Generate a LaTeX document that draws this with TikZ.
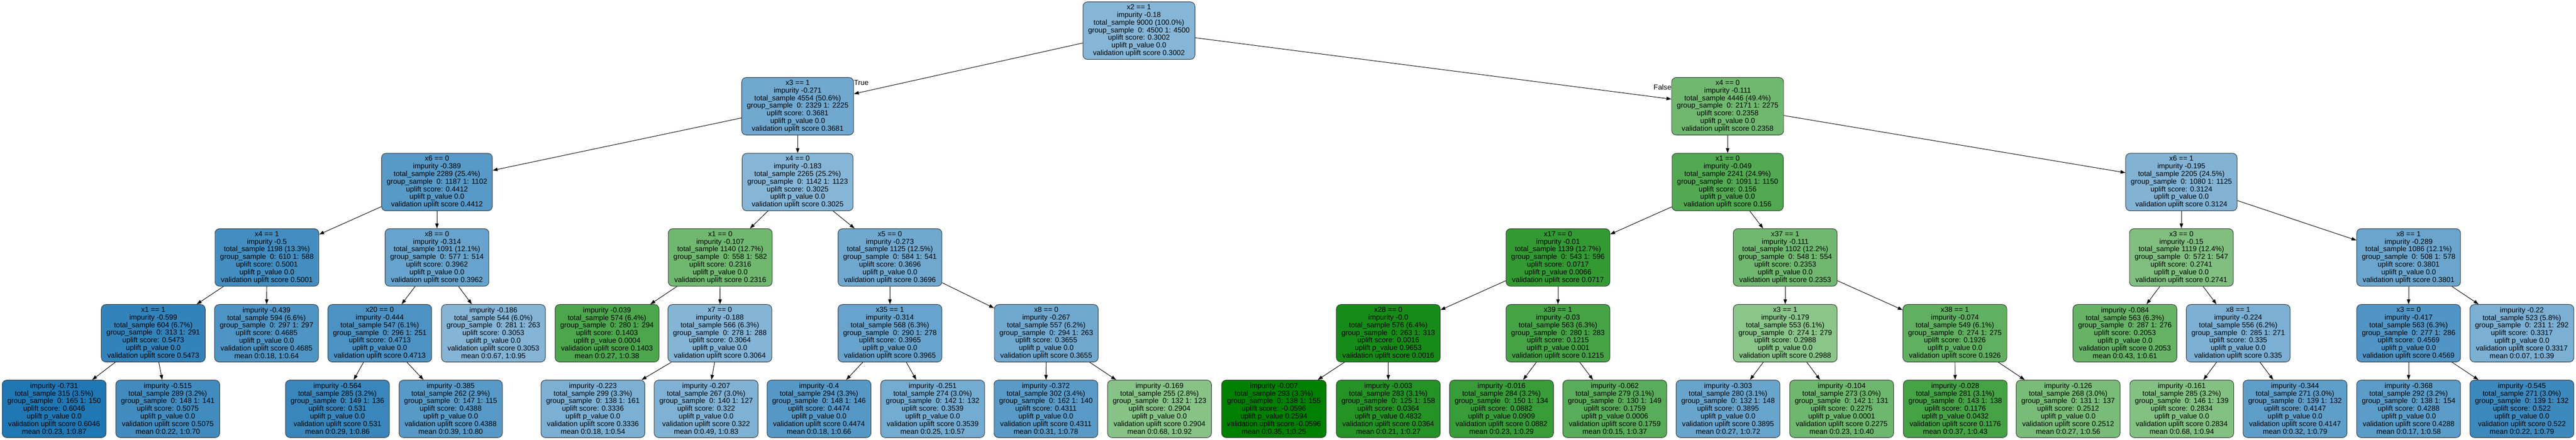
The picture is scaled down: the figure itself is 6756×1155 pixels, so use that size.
\documentclass[tikz,border=0pt]{standalone}
\usepackage{fontspec}
\setmainfont{Liberation Sans}
\usetikzlibrary{arrows.meta}
\definecolor{upblue}{HTML}{1F77B4}
\definecolor{upgreen}{HTML}{008000}
\newcommand\splittext[8]{#1\\impurity #2\\total\_sample #3\\group\_sample\ \ 0: #4 1: #5\\uplift score: #6\\uplift p\_value #7\\validation uplift score #8}
\newcommand\leaftext[8]{impurity #1\\total\_sample #2\\group\_sample\ \ 0: #3 1: #4\\uplift score: #5\\uplift p\_value #6\\validation uplift score #7\\mean #8}
\tikzset{
	tree/.style={draw=black!80, line width=1.3pt, rounded corners=12pt, align=center, minimum height=151pt, inner xsep=13.5pt, inner ysep=0pt, font=\fontsize{19}{20}\selectfont},
	blu/.style={tree, fill=upblue!#1!white},
	grn/.style={tree, fill=upgreen!#1!white},
	edge/.style={-{Triangle[length=13pt,width=9pt]}, line width=1.3pt},
	lbl/.style={inner sep=0pt, font=\fontsize{19}{20}\selectfont}
}

\begin{document}
\begin{tikzpicture}[x=1pt, y=-1pt]
			%%%%% START %%%%%
			
			\fill[white] (0, 0) rectangle (6756, 1155);
			\useasboundingbox (0, 0) rectangle (6756, 1155);
			
			\node[blu=54] (root) at (2987, 80.5) {\splittext{x2 == 1}{-0.18}{9000 (100.0\%)}{4500}{4500}{0.3002}{0.0}{0.3002}};
			
			\node[blu=64] (a) at (2092, 279) {\splittext{x3 == 1}{-0.271}{4554 (50.6\%)}{2329}{2225}{0.3681}{0.0}{0.3681}};
			\node[grn=56] (b) at (4531, 279) {\splittext{x4 == 0}{-0.111}{4446 (49.4\%)}{2171}{2275}{0.2358}{0.0}{0.2358}};
			
			\node[blu=75] (aa) at (1146, 478) {\splittext{x6 == 0}{-0.389}{2289 (25.4\%)}{1187}{1102}{0.4412}{0.0}{0.4412}};
			\node[blu=54] (ab) at (2092, 478) {\splittext{x4 == 0}{-0.183}{2265 (25.2\%)}{1142}{1123}{0.3025}{0.0}{0.3025}};
			\node[grn=68] (ba) at (4531, 478) {\splittext{x1 == 0}{-0.049}{2241 (24.9\%)}{1091}{1150}{0.156}{0.0}{0.156}};
			\node[blu=56] (bb) at (5721, 478) {\splittext{x6 == 1}{-0.195}{2205 (24.5\%)}{1080}{1125}{0.3124}{0.0}{0.3124}};
			
			\node[blu=84] (aaa) at (700, 676) {\splittext{x4 == 1}{-0.5}{1198 (13.3\%)}{610}{588}{0.5001}{0.0}{0.5001}};
			\node[blu=68] (aab) at (1146, 676) {\splittext{x8 == 0}{-0.314}{1091 (12.1\%)}{577}{514}{0.3962}{0.0}{0.3962}};
			\node[grn=56] (aba) at (1889, 676) {\splittext{x1 == 0}{-0.107}{1140 (12.7\%)}{558}{582}{0.2316}{0.0}{0.2316}};
			\node[blu=64] (abb) at (2334, 676) {\splittext{x5 == 0}{-0.273}{1125 (12.5\%)}{584}{541}{0.3696}{0.0}{0.3696}};
			\node[grn=80] (baa) at (4086, 676) {\splittext{x17 == 0}{-0.01}{1139 (12.7\%)}{543}{596}{0.0717}{0.0066}{0.0717}};
			\node[grn=56] (bab) at (4682, 676) {\splittext{x37 == 1}{-0.111}{1102 (12.2\%)}{548}{554}{0.2353}{0.0}{0.2353}};
			\node[grn=50] (bba) at (5721, 676) {\splittext{x3 == 0}{-0.15}{1119 (12.4\%)}{572}{547}{0.2741}{0.0}{0.2741}};
			\node[blu=66] (bbb) at (6317, 676) {\splittext{x8 == 1}{-0.289}{1086 (12.1\%)}{508}{578}{0.3801}{0.0}{0.3801}};
			
			\node[blu=91] (aaaa) at (402, 875) {\splittext{x1 == 1}{-0.599}{604 (6.7\%)}{313}{291}{0.5473}{0.0}{0.5473}};
			\node[blu=79] (aaab) at (699, 875) {\leaftext{-0.439}{594 (6.6\%)}{297}{297}{0.4685}{0.0}{0.4685}{0:0.18, 1:0.64}};
			\node[blu=80] (aaba) at (996, 875) {\splittext{x20 == 0}{-0.444}{547 (6.1\%)}{296}{251}{0.4713}{0.0}{0.4713}};
			\node[blu=55] (aabb) at (1294, 875) {\leaftext{-0.186}{544 (6.0\%)}{281}{263}{0.3053}{0.0}{0.3053}{0:0.67, 1:0.95}};
			\node[grn=70] (abaa) at (1592, 875) {\leaftext{-0.039}{574 (6.4\%)}{280}{294}{0.1403}{0.0004}{0.1403}{0:0.27, 1:0.38}};
			\node[blu=55] (abab) at (1888, 875) {\splittext{x7 == 0}{-0.188}{566 (6.3\%)}{278}{288}{0.3064}{0.0}{0.3064}};
			\node[blu=68] (abba) at (2334, 875) {\splittext{x35 == 1}{-0.314}{568 (6.3\%)}{290}{278}{0.3965}{0.0}{0.3965}};
			\node[blu=64] (abbb) at (2744, 875) {\splittext{x8 == 0}{-0.267}{557 (6.2\%)}{294}{263}{0.3655}{0.0}{0.3655}};
			\node[grn=91] (baaa) at (3641, 875) {\splittext{x28 == 0}{-0.0}{576 (6.4\%)}{263}{313}{0.0016}{0.9653}{0.0016}};
			\node[grn=73] (baab) at (4086, 875) {\splittext{x39 == 1}{-0.03}{563 (6.3\%)}{280}{283}{0.1215}{0.001}{0.1215}};
			\node[grn=46] (baba) at (4682, 875) {\splittext{x3 == 1}{-0.179}{553 (6.1\%)}{274}{279}{0.2988}{0.0}{0.2988}};
			\node[grn=62] (babb) at (5127, 875) {\splittext{x38 == 1}{-0.074}{549 (6.1\%)}{274}{275}{0.1926}{0.0}{0.1926}};
			\node[grn=60] (bbaa) at (5573, 875) {\leaftext{-0.084}{563 (6.3\%)}{287}{276}{0.2053}{0.0}{0.2053}{0:0.43, 1:0.61}};
			\node[blu=59] (bbab) at (5870, 875) {\splittext{x8 == 1}{-0.224}{556 (6.2\%)}{285}{271}{0.335}{0.0}{0.335}};
			\node[blu=78] (bbba) at (6317, 875) {\splittext{x3 == 0}{-0.417}{563 (6.3\%)}{277}{286}{0.4569}{0.0}{0.4569}};
			\node[blu=59] (bbbb) at (6614, 875) {\leaftext{-0.22}{523 (5.8\%)}{231}{292}{0.3317}{0.0}{0.3317}{0:0.07, 1:0.39}};
			
			\node[blu=100] (aaaaa) at (142, 1073.5) {\leaftext{-0.731}{315 (3.5\%)}{165}{150}{0.6046}{0.0}{0.6046}{0:0.23, 1:0.87}};
			\node[blu=85] (aaaab) at (440, 1073.5) {\leaftext{-0.515}{289 (3.2\%)}{148}{141}{0.5075}{0.0}{0.5075}{0:0.22, 1:0.70}};
			\node[blu=89] (aabaa) at (885, 1073.5) {\leaftext{-0.564}{285 (3.2\%)}{149}{136}{0.531}{0.0}{0.531}{0:0.29, 1:0.86}};
			\node[blu=75] (aabab) at (1182, 1073.5) {\leaftext{-0.385}{262 (2.9\%)}{147}{115}{0.4388}{0.0}{0.4388}{0:0.39, 1:0.80}};
			\node[blu=59] (ababa) at (1555, 1073.5) {\leaftext{-0.223}{299 (3.3\%)}{138}{161}{0.3336}{0.0}{0.3336}{0:0.18, 1:0.54}};
			\node[blu=57] (ababb) at (1852, 1073.5) {\leaftext{-0.207}{267 (3.0\%)}{140}{127}{0.322}{0.0}{0.322}{0:0.49, 1:0.83}};
			\node[blu=76] (abbaa) at (2148, 1073.5) {\leaftext{-0.4}{294 (3.3\%)}{148}{146}{0.4474}{0.0}{0.4474}{0:0.18, 1:0.66}};
			\node[blu=62] (abbab) at (2446, 1073.5) {\leaftext{-0.251}{274 (3.0\%)}{142}{132}{0.3539}{0.0}{0.3539}{0:0.25, 1:0.57}};
			\node[blu=74] (abbba) at (2743, 1073.5) {\leaftext{-0.372}{302 (3.4\%)}{162}{140}{0.4311}{0.0}{0.4311}{0:0.31, 1:0.78}};
			\node[grn=47] (abbbb) at (3041, 1073.5) {\leaftext{-0.169}{255 (2.8\%)}{132}{123}{0.2904}{0.0}{0.2904}{0:0.68, 1:0.92}};
			\node[grn=100] (baaaa) at (3341, 1073.5) {\leaftext{-0.007}{293 (3.3\%)}{138}{155}{-0.0596}{0.2594}{-0.0596}{0:0.35, 1:0.25}};
			\node[grn=86] (baaab) at (3641, 1073.5) {\leaftext{-0.003}{283 (3.1\%)}{125}{158}{0.0364}{0.4832}{0.0364}{0:0.21, 1:0.27}};
			\node[grn=78] (baaba) at (3938, 1073.5) {\leaftext{-0.016}{284 (3.2\%)}{150}{134}{0.0882}{0.0909}{0.0882}{0:0.23, 1:0.29}};
			\node[grn=65] (baabb) at (4235, 1073.5) {\leaftext{-0.062}{279 (3.1\%)}{130}{149}{0.1759}{0.0006}{0.1759}{0:0.15, 1:0.37}};
			\node[blu=67] (babaa) at (4532, 1073.5) {\leaftext{-0.303}{280 (3.1\%)}{132}{148}{0.3895}{0.0}{0.3895}{0:0.27, 1:0.72}};
			\node[grn=57] (babab) at (4830, 1073.5) {\leaftext{-0.104}{273 (3.0\%)}{142}{131}{0.2275}{0.0001}{0.2275}{0:0.23, 1:0.40}};
			\node[grn=73] (babba) at (5128, 1073.5) {\leaftext{-0.028}{281 (3.1\%)}{143}{138}{0.1176}{0.0432}{0.1176}{0:0.37, 1:0.43}};
			\node[grn=53] (babbb) at (5424, 1073.5) {\leaftext{-0.126}{268 (3.0\%)}{131}{137}{0.2512}{0.0}{0.2512}{0:0.27, 1:0.56}};
			\node[grn=49] (bbaba) at (5722, 1073.5) {\leaftext{-0.161}{285 (3.2\%)}{146}{139}{0.2834}{0.0}{0.2834}{0:0.68, 1:0.94}};
			\node[blu=71] (bbabb) at (6019, 1073.5) {\leaftext{-0.344}{271 (3.0\%)}{139}{132}{0.4147}{0.0}{0.4147}{0:0.32, 1:0.79}};
			\node[blu=73] (bbbaa) at (6317, 1073.5) {\leaftext{-0.368}{292 (3.2\%)}{138}{154}{0.4288}{0.0}{0.4288}{0:0.17, 1:0.58}};
			\node[blu=87] (bbbab) at (6614, 1073.5) {\leaftext{-0.545}{271 (3.0\%)}{139}{132}{0.522}{0.0}{0.522}{0:0.22, 1:0.79}};
			
			\node[lbl, anchor=north west] (truelab) at ([yshift=-7pt]a.north east) {True};
			\node[lbl, anchor=north east] (falselab) at ([yshift=-19pt]b.north west) {False};
			
			\draw[edge] (root) -- (a);
			\draw[edge] (root) -- (b);
			
			\draw[edge] (a) -- (aa);
			\draw[edge] (a) -- (ab);
			\draw[edge] (b) -- (ba);
			\draw[edge] (b) -- (bb);
			
			\draw[edge] (aa) -- (aaa);
			\draw[edge] (aa) -- (aab);
			\draw[edge] (ab) -- (aba);
			\draw[edge] (ab) -- (abb);
			\draw[edge] (ba) -- (baa);
			\draw[edge] (ba) -- (bab);
			\draw[edge] (bb) -- (bba);
			\draw[edge] (bb) -- (bbb);
			
			\draw[edge] (aaa) -- (aaaa);
			\draw[edge] (aaa) -- (aaab);
			\draw[edge] (aab) -- (aaba);
			\draw[edge] (aab) -- (aabb);
			\draw[edge] (aba) -- (abaa);
			\draw[edge] (aba) -- (abab);
			\draw[edge] (abb) -- (abba);
			\draw[edge] (abb) -- (abbb);
			\draw[edge] (baa) -- (baaa);
			\draw[edge] (baa) -- (baab);
			\draw[edge] (bab) -- (baba);
			\draw[edge] (bab) -- (babb);
			\draw[edge] (bba) -- (bbaa);
			\draw[edge] (bba) -- (bbab);
			\draw[edge] (bbb) -- (bbba);
			\draw[edge] (bbb) -- (bbbb);
			
			\draw[edge] (aaaa) -- (aaaaa);
			\draw[edge] (aaaa) -- (aaaab);
			\draw[edge] (aaba) -- (aabaa);
			\draw[edge] (aaba) -- (aabab);
			\draw[edge] (abab) -- (ababa);
			\draw[edge] (abab) -- (ababb);
			\draw[edge] (abba) -- (abbaa);
			\draw[edge] (abba) -- (abbab);
			\draw[edge] (abbb) -- (abbba);
			\draw[edge] (abbb) -- (abbbb);
			\draw[edge] (baaa) -- (baaaa);
			\draw[edge] (baaa) -- (baaab);
			\draw[edge] (baab) -- (baaba);
			\draw[edge] (baab) -- (baabb);
			\draw[edge] (baba) -- (babaa);
			\draw[edge] (baba) -- (babab);
			\draw[edge] (babb) -- (babba);
			\draw[edge] (babb) -- (babbb);
			\draw[edge] (bbab) -- (bbaba);
			\draw[edge] (bbab) -- (bbabb);
			\draw[edge] (bbba) -- (bbbaa);
			\draw[edge] (bbba) -- (bbbab);
			
			%%%%% END %%%%%
\end{tikzpicture}
\end{document}
